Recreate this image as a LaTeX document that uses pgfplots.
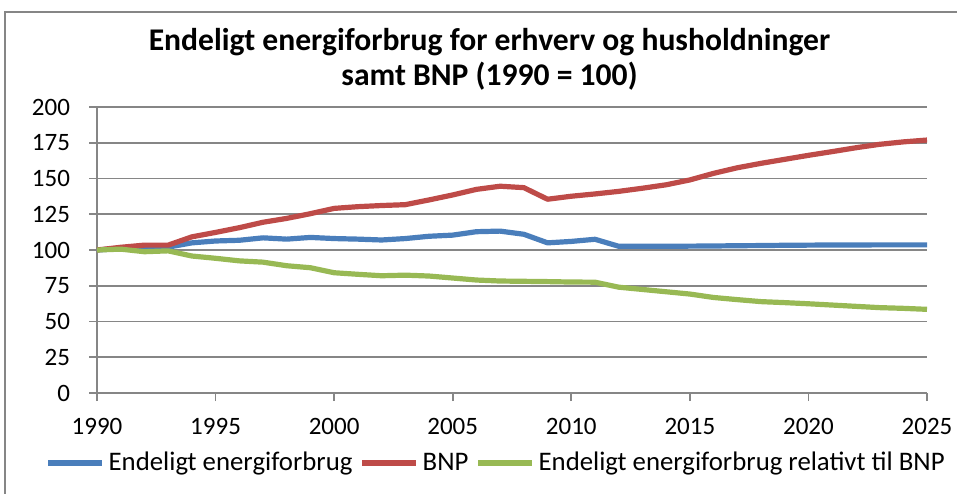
\documentclass[border=0pt]{standalone}
\usepackage{pgfplots}
\pgfplotsset{compat=1.18}
\usepackage{fontspec}
\setmainfont{Carlito}
\definecolor{cblue}{HTML}{4A7EBB}
\definecolor{cred}{HTML}{BE4B48}
\definecolor{cgreen}{HTML}{98B954}
\definecolor{cgrid}{HTML}{868686}
\begin{document}
\begin{tikzpicture}
\path[use as bounding box] (0pt,0pt) rectangle (478.5pt,246.5pt);
\draw[cgrid, line width=0.6pt] (2.5pt,-5pt) rectangle (485pt,240.5pt);
\node[font=\fontsize{15.8}{18}\selectfont\bfseries] at (244.75pt,225.5pt) {Endeligt energiforbrug for erhverv og husholdninger};
\node[font=\fontsize{15.8}{18}\selectfont\bfseries] at (244.75pt,208.5pt) {samt BNP (1990 = 100)};
\begin{axis}[
  at={(48.5pt,50pt)}, anchor=south west,
  scale only axis, width=415pt, height=143pt,
  xmin=1990, xmax=2025, ymin=0, ymax=200,
  xtick={1990,1995,...,2025}, ytick={0,25,...,200},
  axis x line*=bottom, axis y line*=left,
  axis line style={cgrid, line width=0.9pt, -},
  tick style={cgrid, line width=0.9pt},
  tick align=outside, major tick length=4pt,
  ymajorgrids, grid style={cgrid, line width=0.9pt},
  xticklabel style={/pgf/number format/1000 sep={}, yshift=-5pt},
  yticklabel style={xshift=-6pt},
  /pgf/number format/assume math mode=true,
  ticklabel style={font=\fontsize{12.5}{15}\selectfont},
  clip=false,
  legend style={at={(0.482,-0.245)}, anchor=center, draw=none, fill=none,
    legend columns=3, font=\fontsize{13.4}{16}\selectfont,
    /tikz/every even column/.append style={column sep=1.5pt},
    inner sep=0pt},
  legend image code/.code={\draw[#1] (0pt,0pt) -- (27pt,0pt);},
  every axis plot/.append style={line width=2.6pt, line join=round},
]
\addplot[cblue] coordinates {
(1990,100) (1991,101) (1992,102) (1993,102) (1994,105) (1995,106.3) (1996,106.8)
(1997,108.5) (1998,107.6) (1999,108.8) (2000,108) (2001,107.6) (2002,107)
(2003,108) (2004,109.6) (2005,110.4) (2006,112.8) (2007,113.2) (2008,111)
(2009,105) (2010,106) (2011,107.5) (2012,102.6) (2013,102.6) (2014,102.6)
(2015,102.7) (2016,102.8) (2017,103) (2018,103.1) (2019,103.3) (2020,103.4)
(2021,103.5) (2022,103.5) (2023,103.6) (2024,103.6) (2025,103.6)};
\addlegendentry{Endeligt energiforbrug}
\addplot[cred] coordinates {
(1990,100) (1991,101.9) (1992,103.4) (1993,103.4) (1994,109.2) (1995,112.3)
(1996,115.6) (1997,119.4) (1998,122.1) (1999,125.4) (2000,129.1) (2001,130.3)
(2002,131.1) (2003,131.7) (2004,135) (2005,138.5) (2006,142.4) (2007,144.6)
(2008,143.6) (2009,135.5) (2010,137.6) (2011,139.2) (2012,141) (2013,143.2)
(2014,145.6) (2015,149) (2016,153.6) (2017,157.5) (2018,160.6) (2019,163.4)
(2020,166.2) (2021,168.8) (2022,171.5) (2023,173.9) (2024,175.6) (2025,176.9)};
\addlegendentry{BNP}
\addplot[cgreen] coordinates {
(1990,100) (1991,100.6) (1992,98.8) (1993,99.4) (1994,95.8) (1995,94.2)
(1996,92.4) (1997,91.5) (1998,89) (1999,87.6) (2000,84.1) (2001,83)
(2002,82) (2003,82.4) (2004,81.8) (2005,80.4) (2006,79) (2007,78.3)
(2008,78.1) (2009,77.9) (2010,77.6) (2011,77.5) (2012,74) (2013,72.4)
(2014,70.8) (2015,69.2) (2016,66.8) (2017,65.3) (2018,63.9) (2019,63.2)
(2020,62.4) (2021,61.5) (2022,60.6) (2023,59.7) (2024,59.2) (2025,58.5)};
\addlegendentry{Endeligt energiforbrug relativt til BNP}
\end{axis}
\end{tikzpicture}
\end{document}
